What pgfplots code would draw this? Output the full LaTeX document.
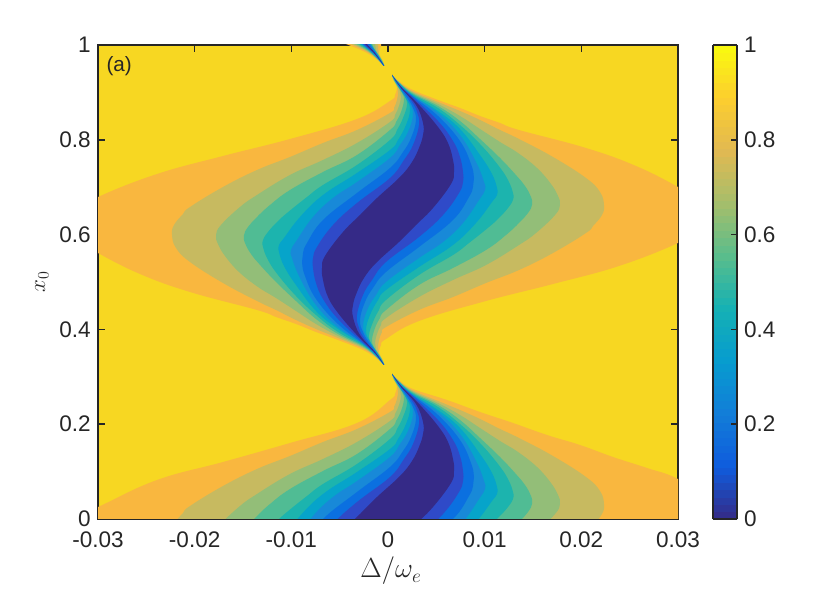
\documentclass[border=0pt]{standalone}
\usepackage[no-math]{fontspec}
\setmainfont{Liberation Sans}
\usepackage{pgfplots}
\usepackage{pgfplotstable}
\pgfplotsset{compat=1.18}
\definecolor{cY}{RGB}{247,215,34}
\definecolor{cA}{RGB}{249,183,63}
\definecolor{cB}{RGB}{199,186,96}
\definecolor{cC}{RGB}{147,190,120}
\definecolor{cD}{RGB}{80,188,148}
\definecolor{cE}{RGB}{28,180,174}
\definecolor{cF}{RGB}{6,164,202}
\definecolor{cG}{RGB}{24,137,216}
\definecolor{cH}{RGB}{11,112,224}
\definecolor{cI}{RGB}{47,74,200}
\definecolor{cJ}{RGB}{53,42,135}
\definecolor{ink}{RGB}{38,38,38}
\pgfplotstableread{
d h
4 145
12 138
25 130
50 120
72 112
92 104
112 97
131 90
198 72
248 54
290 33
310 20
315 0
310 -10
290 -23
231 -46
165 -64
98 -81
31 -101
-2 -119
-7 -125
-9 -132
-8.5 -136
-6 -140
-4 -145
-12 -138
-25 -130
-50 -120
-72 -112
-92 -104
-112 -97
-131 -90
-198 -72
-248 -54
-290 -33
-310 -20
-315 0
-310 10
-290 23
-231 46
-165 64
-98 81
-31 101
2 119
7 125
9 132
8.5 136
6 140
4 145
}\LA
\pgfplotstableread{
d h
4 145
12 138
25 130
59 119
92 107
125 96
159 84
192 74
225 62
259 51
290 40
330 15
330 -30
-330 -30
-330 -6
-290 12
-231 39
-165 57
-98 76
-31 96
2 119
7 125
9 132
8.5 136
6 140
4 145
}\LAb
\pgfplotstableread{
d h
4 145
12 137
25 128.5
50 118
72 109
92 100
112 90
131 81
165 63
198 42
212 28
216 15
214 5
205 -6
198 -13
165 -33
131 -50
98 -63
65 -77
31 -90
-2 -107
-6 -112
-9 -120
-10 -128
-9 -133
-7 -137
-5 -141
-4 -145
-12 -137
-25 -128.5
-50 -118
-72 -109
-92 -100
-112 -90
-131 -81
-165 -63
-198 -42
-212 -28
-216 -15
-214 -5
-205 6
-198 13
-165 33
-131 50
-98 63
-65 77
-31 90
2 107
6 112
9 120
10 128
9 133
7 137
5 141
4 145
}\LB
\pgfplotstableread{
d h
4 145
12 137
25 127.5
50 116
72 104
92 91
112 78
130 67
149 52
163 36
170 24
172 15
167 5
148 -13
131 -25
98 -45
65 -60
31 -77
-2 -98
-7 -105
-11 -114
-13 -123
-12 -129
-9 -135
-6 -139
-4 -145
-12 -137
-25 -127.5
-50 -116
-72 -104
-92 -91
-112 -78
-130 -67
-149 -52
-163 -36
-170 -24
-172 -15
-167 -5
-148 13
-131 25
-98 45
-65 60
-31 77
2 98
7 105
11 114
13 123
12 129
9 135
6 139
4 145
}\LC
\pgfplotstableread{
d h
4 145
12 136.5
25 126.5
50 114
72 99
92 81
112 62
127 46
137 34
143 23
144 15
140 7
131 -3
118 -15
98 -30
65 -48
31 -65
-2 -90
-8 -98
-13 -108
-16 -120
-14 -127
-10 -133
-7 -138
-4 -145
-12 -136.5
-25 -126.5
-50 -114
-72 -99
-92 -81
-112 -62
-127 -46
-137 -34
-143 -23
-144 -15
-140 -7
-131 3
-118 15
-98 30
-65 48
-31 65
2 90
8 98
13 108
16 120
14 127
10 133
7 138
4 145
}\LD
\pgfplotstableread{
d h
4 145
12 136
25 125.5
50 112
72 95
92 76
110 55
120 40
125 27
125 20
120 12
111 2
101 -7
81 -23
65 -35
31 -55
-2 -80
-9 -90
-15 -102
-19 -115
-17 -123
-12 -131
-8 -137
-4 -145
-12 -136
-25 -125.5
-50 -112
-72 -95
-92 -76
-110 -55
-120 -40
-125 -27
-125 -20
-120 -12
-111 -2
-101 7
-81 23
-65 35
-31 55
2 80
9 90
15 102
19 115
17 123
12 131
8 137
4 145
}\LE
\pgfplotstableread{
d h
4 145
12 135.5
25 124.5
50 109
72 91
92 65
104 46
109 32
109 25
104 18
88 -3
65 -25
31 -47
-2 -70
-10 -80
-18 -95
-22 -110
-19 -120
-14 -128
-9 -136
-4 -145
-12 -135.5
-25 -124.5
-50 -109
-72 -91
-92 -65
-104 -46
-109 -32
-109 -25
-104 -18
-88 3
-65 25
-31 47
2 70
10 80
18 95
22 110
19 120
14 128
9 136
4 145
}\LF
\pgfplotstableread{
d h
4 145
12 135
25 124
50 107
72 85
88 58
96 38
97 30
91 20
75 -3
55 -22
31 -38
-2 -62
-12 -75
-20 -88
-25 -105
-22 -116
-17 -124
-10 -135
-4 -145
-12 -135
-25 -124
-50 -107
-72 -85
-88 -58
-96 -38
-97 -30
-91 -20
-75 3
-55 22
-31 38
2 62
12 75
20 88
25 105
22 116
17 124
10 135
4 145
}\LG
\pgfplotstableread{
d h
4 145
12 134.5
25 123.5
50 104
72 79
83 56
86 42
85 33
81 23
65 0
31 -27
-2 -52
-15 -68
-23 -82
-28 -100
-25 -112
-20 -121
-11 -134
-4 -145
-12 -134.5
-25 -123.5
-50 -104
-72 -79
-83 -56
-86 -42
-85 -33
-81 -23
-65 0
-31 27
2 52
15 68
23 82
28 100
25 112
20 121
11 134
4 145
}\LH
\pgfplotstableread{
d h
4 145
12 134
25 122.5
50 99
65 79
72 63
75 48
75 38
71 27
55 5
31 -17
-2 -42
-16 -60
-25 -75
-31 -95
-29 -108
-24 -118
-13 -133
-4 -145
-12 -134
-25 -122.5
-50 -99
-65 -79
-72 -63
-75 -48
-75 -38
-71 -27
-55 -5
-31 17
2 42
16 60
25 75
31 95
29 108
24 118
13 133
4 145
}\LI
\pgfplotstableread{
d h
4 145
14 132
32 114
50 93
60 77
65 60
66 48
63 36
45 12
28 -5
11 -22
-12 -43
-24 -58
-31 -72
-35 -85
-35 -97
-28 -115
-13 -132
-4 -145
-14 -132
-32 -114
-50 -93
-60 -77
-65 -60
-66 -48
-63 -36
-45 -12
-28 5
-11 22
12 43
24 58
31 72
35 85
35 97
28 115
13 132
4 145
}\LJ
\newcommand\lobe[2]{%
\addplot[fill=#2,draw=none,smooth,tension=0.7] table[x expr=\thisrow{d}/9667,y expr=\thisrow{h}/474]{#1};
\addplot[fill=#2,draw=none,smooth,tension=0.7] table[x expr=\thisrow{d}/9667,y expr=(\thisrow{h}+299)/474]{#1};
\addplot[fill=#2,draw=none,smooth,tension=0.7] table[x expr=\thisrow{d}/9667,y expr=(\thisrow{h}+598)/474]{#1};}
\begin{document}
\begin{tikzpicture}[x=1pt,y=1pt]
\path[use as bounding box] (0,0) rectangle (622.5,441);
\begin{axis}[
  at={(73.5pt,51.75pt)},anchor=south west,
  scale only axis,width=435pt,height=355.5pt,
  xmin=-0.03,xmax=0.03,ymin=0,ymax=1,
  scaled x ticks=false,scaled y ticks=false,
  axis background/.style={fill=cY},
  axis line style={draw=ink,line width=1.5pt},
  tick style={draw=ink,line width=1.1pt},
  tick align=inside,major tick length=5.5pt,
  xtick={-0.03,-0.02,-0.01,0,0.01,0.02,0.03},
  xticklabels={-0.03,-0.02,-0.01,0,0.01,0.02,0.03},
  ytick={0,0.2,0.4,0.6,0.8,1},
  yticklabels={0,0.2,0.4,0.6,0.8,1},
  every tick label/.append style={font=\fontsize{16.9}{20}\selectfont,text=ink},
  xticklabel style={yshift=-6pt},
  yticklabel style={xshift=-2pt},
  xlabel={$\Delta/\omega_e$},
  ylabel={$x_0$},
  xlabel style={font=\fontsize{20}{22}\selectfont,text=ink,at={(axis description cs:0.505,0)},anchor=center,yshift=-39pt},
  ylabel style={font=\fontsize{18.5}{20}\selectfont,text=ink,at={(axis description cs:0,0.5)},anchor=center,yshift=42pt},
  colormap={parula}{rgb255=(53,42,135) rgb255=(15,92,221) rgb255=(18,125,216) rgb255=(7,156,207) rgb255=(21,177,180) rgb255=(89,189,140) rgb255=(165,190,107) rgb255=(225,185,82) rgb255=(252,206,46) rgb255=(249,251,14)},
  point meta min=0,point meta max=1,
  colorbar sampled,
  colorbar style={samples=65,width=18pt,at={(parent axis.south east)},anchor=south west,xshift=18pt,
    height=355.5pt,
    ytick={0,0.2,0.4,0.6,0.8,1},yticklabels={0,0.2,0.4,0.6,0.8,1},
    ytick pos=right,yticklabel pos=right,tick align=inside,
    major tick length=4.5pt,
    axis line style={draw=ink,line width=1.5pt},
    tick style={draw=ink,line width=1.1pt},
    every tick label/.append style={font=\fontsize{16.9}{20}\selectfont,text=ink},
    yticklabel style={xshift=1.5pt}},
]
\addplot[fill=cA,draw=none,smooth,tension=0.7] table[x expr=\thisrow{d}/9667,y expr=\thisrow{h}/474]{\LAb};
\addplot[fill=cA,draw=none,smooth,tension=0.7] table[x expr=\thisrow{d}/9667,y expr=(\thisrow{h}+299)/474]{\LA};
\addplot[fill=cA,draw=none,smooth,tension=0.7] table[x expr=\thisrow{d}/9667,y expr=(\thisrow{h}+598)/474]{\LA};
\lobe{\LB}{cB}
\lobe{\LC}{cC}
\lobe{\LD}{cD}
\lobe{\LE}{cE}
\lobe{\LF}{cF}
\lobe{\LG}{cG}
\lobe{\LH}{cH}
\lobe{\LI}{cI}
\lobe{\LJ}{cJ}
\node[anchor=west,font=\fontsize{15.5}{17}\selectfont,text=ink] at (axis cs:-0.0296,0.955) {(a)};
\end{axis}
\end{tikzpicture}
\end{document}
